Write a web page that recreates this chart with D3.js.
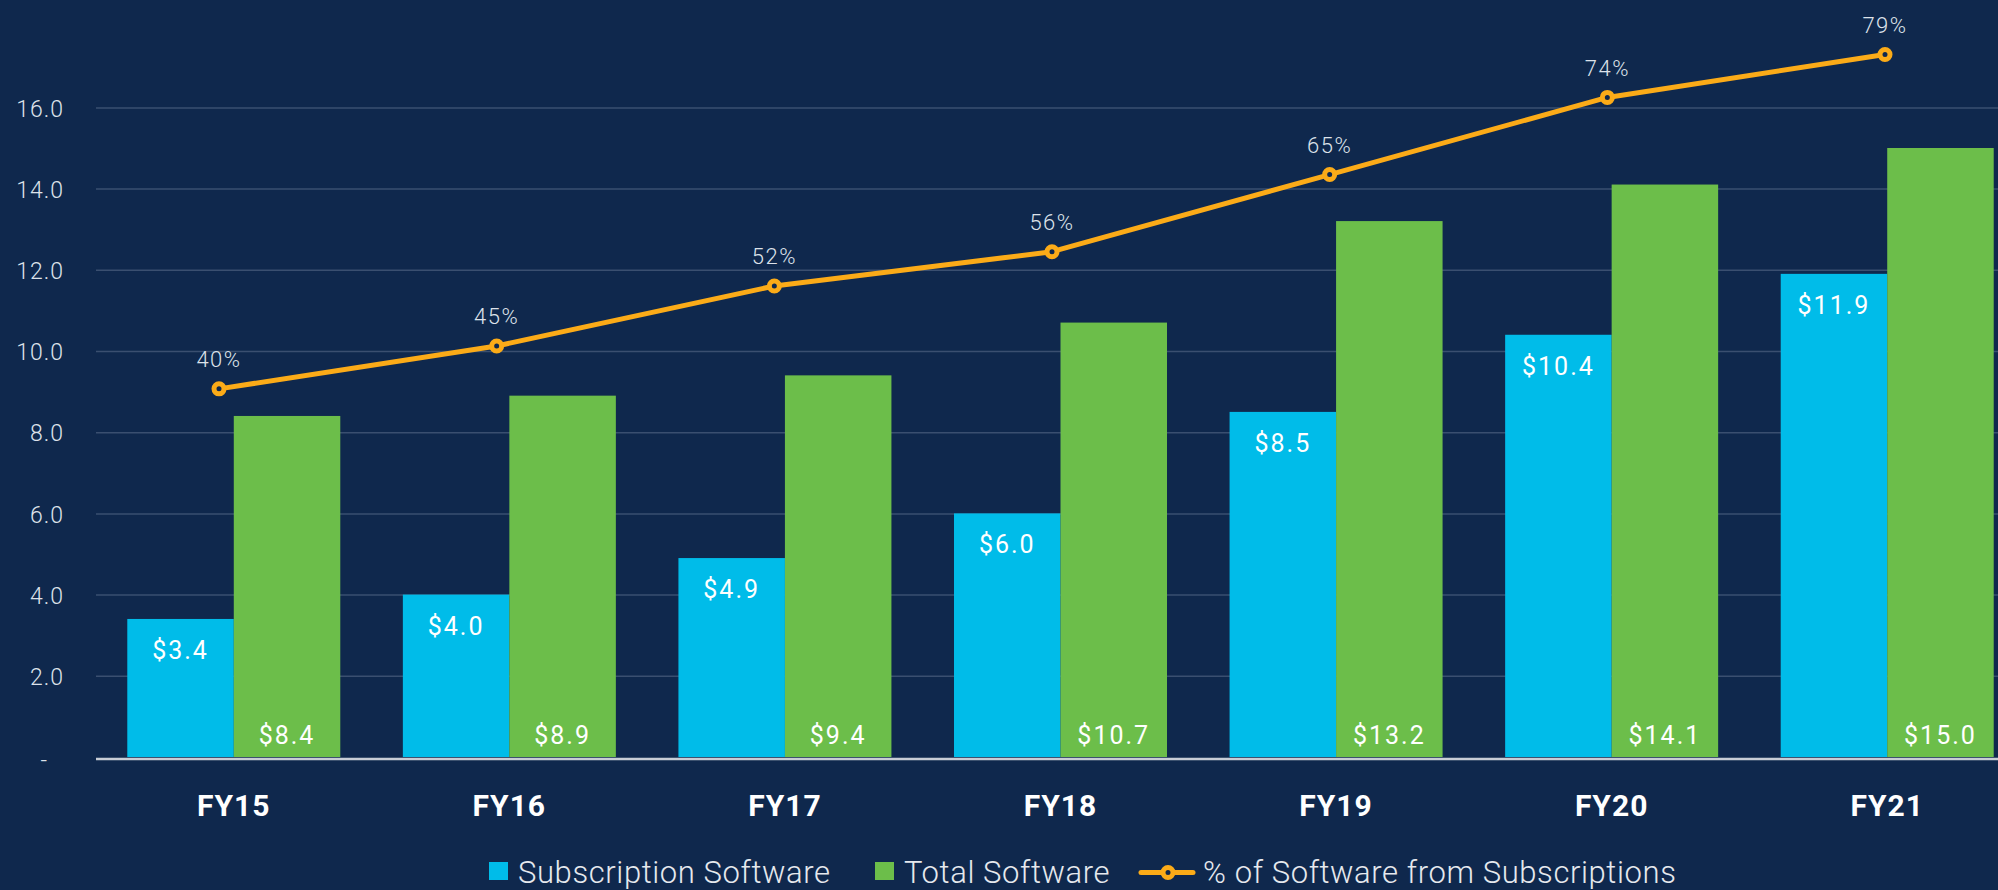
<!DOCTYPE html>
<html><head><meta charset="utf-8">
<script src="https://cdn.jsdelivr.net/npm/d3@7"></script>
<style>
html,body{margin:0;padding:0;background:#0F284D;}
svg{display:block;font-family:Roboto,"Liberation Sans",sans-serif;}
</style>
</head><body>
<svg id="chart" width="1998" height="890"></svg>
<script>
// ---- data ----
const categories = ["FY15","FY16","FY17","FY18","FY19","FY20","FY21"];
const subscriptionSoftware = [3.4,4.0,4.9,6.0,8.5,10.4,11.9];
const totalSoftware = [8.4,8.9,9.4,10.7,13.2,14.1,15.0];
const pctFromSubscriptions = [40,45,52,56,65,74,79];
const yTickValues = [0,2,4,6,8,10,12,14,16];
const yTickLabels = ["-","2.0","4.0","6.0","8.0","10.0","12.0","14.0","16.0"];
const seriesNames = ["Subscription Software","Total Software","% of Software from Subscriptions"];

// ---- style ----
const BG = "#0F284D", BLUE = "#00BCE9", GREEN = "#6CBE4A", ORANGE = "#FBAB18";
const GRID = "#3A4F70", TEXT = "#DDE2EA";

const W = 1998, H = 890;
const left = 96, right = 2025;
const svg = d3.select("#chart");
svg.append("rect").attr("width", W).attr("height", H).attr("fill", BG);

const x = d3.scaleBand().domain(categories).range([left, right]);
const groupW = 213;
const x1 = d3.scaleBand().domain(["sub","total"]).range([0, groupW]);
const y = d3.scaleLinear().domain([0, 18]).range([757, 26.2]);
const xLine = d3.scalePoint().domain(categories).range([219, 1885]);
const y2 = d3.scaleLinear().domain([0, 80]).range([731.7, 46]);

// grid + y axis
const yAxis = d3.axisLeft(y).tickValues(yTickValues).tickSize(-(W - left)).tickPadding(32)
  .tickFormat((d, i) => yTickLabels[i]);
const gy = svg.append("g").attr("transform", `translate(${left},0)`).call(yAxis);
gy.select(".domain").remove();
gy.selectAll(".tick line").attr("stroke", GRID).attr("stroke-width", 1.5)
  .attr("opacity", d => d === 0 ? 0 : 1);
gy.selectAll(".tick text").attr("fill", TEXT).attr("font-size", 23).attr("font-weight", 300)
  .attr("letter-spacing", "1px").attr("font-family", "Roboto")
  .attr("dx", d => d === 0 ? -16 : 0).attr("dy", d => d === 0 ? "0.45em" : "0.38em");

// bars
const groups = svg.append("g").selectAll("g").data(categories).join("g")
  .attr("transform", d => `translate(${x(d) + (x.bandwidth() - groupW) / 2},0)`);

groups.append("rect")
  .attr("x", x1("sub")).attr("width", x1.bandwidth())
  .attr("y", (d, i) => y(subscriptionSoftware[i]))
  .attr("height", (d, i) => y(0) - y(subscriptionSoftware[i]))
  .attr("fill", BLUE);
groups.append("rect")
  .attr("x", x1("total")).attr("width", x1.bandwidth())
  .attr("y", (d, i) => y(totalSoftware[i]))
  .attr("height", (d, i) => y(0) - y(totalSoftware[i]))
  .attr("fill", GREEN);

groups.append("text")
  .attr("x", x1("sub") + x1.bandwidth() / 2)
  .attr("y", (d, i) => y(subscriptionSoftware[i]) + 40)
  .attr("text-anchor", "middle").attr("fill", "#FFFFFF").attr("font-size", 25)
  .attr("letter-spacing", "2px")
  .text((d, i) => "$" + subscriptionSoftware[i].toFixed(1));
groups.append("text")
  .attr("x", x1("total") + x1.bandwidth() / 2)
  .attr("y", y(0) - 13)
  .attr("text-anchor", "middle").attr("fill", "#FFFFFF").attr("font-size", 25)
  .attr("letter-spacing", "2px")
  .text((d, i) => "$" + totalSoftware[i].toFixed(1));

// baseline
svg.append("line").attr("x1", left).attr("x2", W).attr("y1", y(0) + 2).attr("y2", y(0) + 2)
  .attr("stroke", "#C8CDD6").attr("stroke-width", 2.4);

// x labels
svg.append("g").selectAll("text").data(categories).join("text")
  .attr("x", d => x(d) + x.bandwidth() / 2).attr("y", 816)
  .attr("text-anchor", "middle").attr("fill", "#FFFFFF").attr("font-size", 30)
  .attr("font-weight", 700).attr("letter-spacing", "1px")
  .text(d => d);

// line
const lineGen = d3.line().x((d, i) => xLine(categories[i])).y(d => y2(d));
svg.append("path").datum(pctFromSubscriptions).attr("d", lineGen)
  .attr("fill", "none").attr("stroke", ORANGE).attr("stroke-width", 5).attr("stroke-linejoin", "round");
svg.append("g").selectAll("circle").data(pctFromSubscriptions).join("circle")
  .attr("cx", (d, i) => xLine(categories[i])).attr("cy", d => y2(d)).attr("r", 5)
  .attr("fill", BG).attr("stroke", ORANGE).attr("stroke-width", 5);
svg.append("g").selectAll("text").data(pctFromSubscriptions).join("text")
  .attr("x", (d, i) => xLine(categories[i])).attr("y", d => y2(d) - 21.5)
  .attr("text-anchor", "middle").attr("fill", TEXT).attr("font-size", 22).attr("font-weight", 300)
  .attr("letter-spacing", "1.5px")
  .text(d => d + "%");

// legend
const lg = svg.append("g");
const legendX = [489, 875, 1141];
const base = 883;
seriesNames.forEach((name, i) => {
  let lx = legendX[i];
  if (i < 2) {
    lg.append("rect").attr("x", lx).attr("y", 862).attr("width", 19).attr("height", 18)
      .attr("fill", i === 0 ? BLUE : GREEN);
    lx += 29;
  } else {
    lg.append("line").attr("x1", lx).attr("x2", lx + 52).attr("y1", 872.5).attr("y2", 872.5)
      .attr("stroke", ORANGE).attr("stroke-width", 5).attr("stroke-linecap", "round");
    lg.append("circle").attr("cx", lx + 27).attr("cy", 872.5).attr("r", 5)
      .attr("fill", BG).attr("stroke", ORANGE).attr("stroke-width", 5);
    lx += 62;
  }
  lg.append("text").attr("x", lx).attr("y", base).attr("fill", "#E6E9EE")
    .attr("font-size", 31).attr("font-weight", 300).attr("letter-spacing", "0.6px").text(name);
});
</script>
</body></html>
